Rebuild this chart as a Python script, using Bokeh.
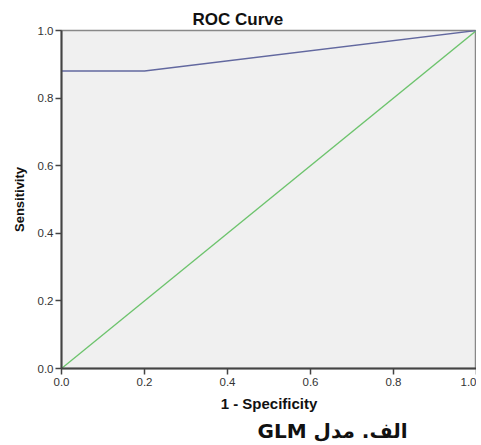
from bokeh.plotting import figure
from bokeh.models import Title, FixedTicker, CustomJSTickFormatter
from bokeh.embed import file_html
from bokeh.resources import INLINE

roc_x = [0.0, 0.2, 1.0]
roc_y = [0.88, 0.88, 1.0]
ref_x = [0.0, 1.0]
ref_y = [0.0, 1.0]
ticks = [0.0, 0.2, 0.4, 0.6, 0.8, 1.0]

FONT = "Liberation Sans, Arial, DejaVu Sans"

p = figure(width=476, height=445, output_backend="svg", toolbar_location=None,
           x_range=(0, 1), y_range=(0, 1), tools="",
           min_border_left=61, min_border_right=0, min_border_top=30, min_border_bottom=0)

p.title.text = "ROC Curve"
p.title.align = "left"
p.title.text_font = FONT
p.title.text_font_size = "17px"
p.title.text_font_style = "bold"
p.title.text_color = "#111111"
p.title.offset = 131
p.title.standoff = 3

p.background_fill_color = "#f0f0f0"
p.border_fill_color = "white"
p.outline_line_color = "#888888"
p.outline_line_width = 1.5
p.grid.visible = False

for ax in (p.xaxis[0], p.yaxis[0]):
    ax.ticker = FixedTicker(ticks=ticks)
    ax.formatter = CustomJSTickFormatter(code="return tick.toFixed(1);")
    ax.major_tick_out = 6
    ax.major_tick_in = 0
    ax.minor_tick_out = 0
    ax.minor_tick_in = 0
    ax.axis_line_color = "#444444"
    ax.axis_line_width = 2
    ax.major_tick_line_color = "#444444"
    ax.major_tick_line_width = 1.5
    ax.major_label_text_font = FONT
    ax.major_label_text_font_size = "11.5px"
    ax.major_label_text_color = "#333333"
    ax.axis_label_text_font = FONT
    ax.axis_label_text_font_style = "bold"
    ax.axis_label_text_color = "#111111"

p.xaxis.axis_label = "1 - Specificity"
p.xaxis.axis_label_text_font_size = "15px"
p.xaxis.major_label_standoff = 3
p.xaxis.axis_label_standoff = 6
p.yaxis.axis_label = "Sensitivity"
p.yaxis.axis_label_text_font_size = "13px"
p.yaxis.major_label_standoff = 2
p.yaxis.axis_label_standoff = 8

p.line(ref_x, ref_y, line_color="#6cc36c", line_width=1.3)
p.line(roc_x, roc_y, line_color="#62689f", line_width=1.4)

cap = Title(text="\u202bالف. مدل GLM\u202c", align="left", offset=196,
            text_font="DejaVu Sans, Liberation Sans",
            text_font_size="20px", text_font_style="bold", text_color="#111111",
            standoff=5)
p.add_layout(cap, "below")

open("out.html", "w").write(file_html(p, INLINE))
